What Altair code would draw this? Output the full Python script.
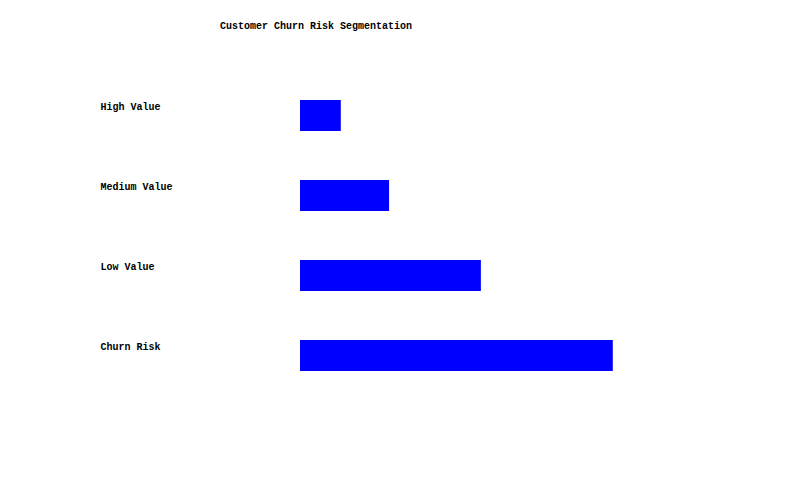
import altair as alt
import pandas as pd

segments = ["High Value", "Medium Value", "Low Value", "Churn Risk"]
values = [12, 26.2, 53.2, 92]

df = pd.DataFrame({"segment": segments, "value": values})

FONT = "Liberation Mono"

chart = alt.Chart(df).mark_bar(color="#0000ff").encode(
    x=alt.X("value:Q", scale=alt.Scale(domain=[0, 100]), axis=None),
    y=alt.Y(
        "segment:N",
        sort=segments,
        scale=alt.Scale(paddingInner=0.6125, paddingOuter=0.3125),
        axis=alt.Axis(
            title=None, domain=False, ticks=False, grid=False,
            labelAlign="left", labelBaseline="top", labelOffset=-14,
            labelPadding=200, labelLimit=400,
            labelFont=FONT, labelFontSize=10, labelFontWeight="bold",
            labelColor="#000000",
        ),
    ),
).properties(
    width=340,
    height=321,
    title=alt.TitleParams(
        "Customer Churn Risk Segmentation", anchor="start", dx=120, dy=-40,
        font=FONT, fontSize=10, fontWeight="bold", color="#000000",
    ),
    autosize=alt.AutoSizeParams(type="none"),
    padding={"left": 300, "top": 75, "right": 160, "bottom": 104},
    background="white",
).configure_view(stroke=None)

chart.save("out.html", embed_options={"renderer": "svg", "actions": False})
